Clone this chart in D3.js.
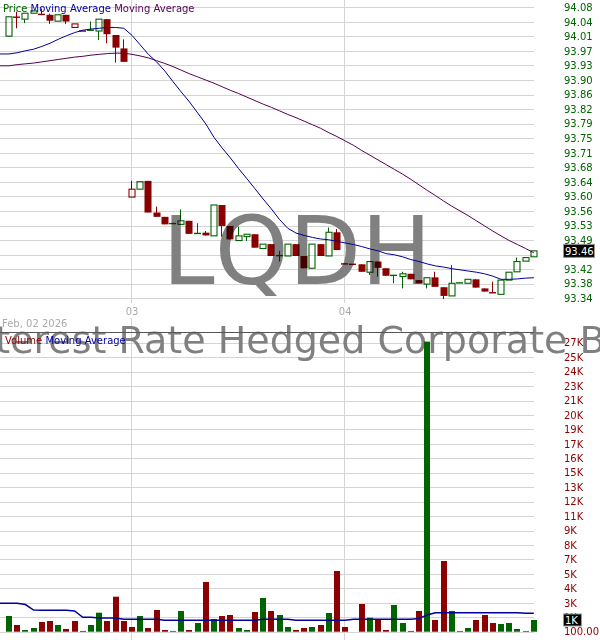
<!DOCTYPE html>
<html>
<head>
<meta charset="utf-8">
<script src="https://cdn.jsdelivr.net/npm/d3@7.9.0/dist/d3.min.js"></script>
<style>
  html, body { margin: 0; padding: 0; background: #fff; }
  svg { display: block; font-family: "DejaVu Sans", sans-serif; }
  text { white-space: pre; }
</style>
</head>
<body>
<svg id="chart" width="600" height="640"></svg>
<script>
// --- data ---
const symbol = 'LQDH';
const fundName = 'iShares Interest Rate Hedged Corporate Bond ETF';
const startLabel = 'Feb, 02 2026';
const monthLabels = ['03', '04'];
const monthStartIndex = [15, 41];

const openP = [94.007, 94.055, 94.050, 94.065, 94.062, 94.061, 94.045, 94.061, 94.029, 94.020,
  94.022, 94.020, 94.050, 94.010, 93.976, 93.600, 93.620, 93.641, 93.561, 93.550,
  93.533, 93.531, 93.540, 93.508, 93.510, 93.502, 93.580, 93.527, 93.490, 93.500,
  93.506, 93.470, 93.481, 93.452, 93.451, 93.481, 93.451, 93.420, 93.481, 93.451,
  93.511, 93.431, 93.430, 93.430, 93.410, 93.437, 93.420, 93.402, 93.399, 93.406,
  93.390, 93.380, 93.397, 93.372, 93.350, 93.383, 93.382, 93.392, 93.369, 93.358,
  93.354, 93.390, 93.411, 93.438, 93.449];
const highP = [94.056, 94.069, 94.065, 94.071, 94.077, 94.064, 94.061, 94.061, 94.038, 94.020,
  94.044, 94.050, 94.050, 94.010, 93.999, 93.641, 93.639, 93.641, 93.576, 93.550,
  93.533, 93.569, 93.540, 93.534, 93.514, 93.580, 93.580, 93.527, 93.525, 93.506,
  93.506, 93.481, 93.481, 93.464, 93.481, 93.481, 93.451, 93.481, 93.481, 93.523,
  93.519, 93.431, 93.430, 93.430, 93.437, 93.437, 93.420, 93.402, 93.411, 93.406,
  93.390, 93.396, 93.411, 93.372, 93.428, 93.383, 93.392, 93.392, 93.369, 93.386,
  93.390, 93.410, 93.447, 93.447, 93.464];
const lowP = [94.007, 94.027, 94.040, 94.065, 94.060, 94.038, 94.045, 94.038, 94.029, 94.020,
  94.022, 93.997, 93.989, 93.940, 93.942, 93.600, 93.620, 93.561, 93.550, 93.531,
  93.533, 93.531, 93.507, 93.508, 93.503, 93.502, 93.500, 93.493, 93.490, 93.489,
  93.472, 93.470, 93.451, 93.437, 93.451, 93.451, 93.420, 93.420, 93.451, 93.451,
  93.466, 93.431, 93.430, 93.411, 93.403, 93.399, 93.401, 93.382, 93.369, 93.392,
  93.382, 93.369, 93.373, 93.342, 93.350, 93.383, 93.382, 93.371, 93.361, 93.358,
  93.354, 93.390, 93.411, 93.438, 93.449];
const closeP = [94.056, 94.055, 94.065, 94.071, 94.062, 94.046, 94.061, 94.044, 94.038, 94.020,
  94.022, 94.050, 94.012, 93.978, 93.942, 93.620, 93.639, 93.561, 93.550, 93.531,
  93.533, 93.540, 93.507, 93.508, 93.503, 93.580, 93.527, 93.493, 93.502, 93.506,
  93.472, 93.481, 93.451, 93.452, 93.481, 93.451, 93.420, 93.481, 93.451, 93.511,
  93.466, 93.431, 93.430, 93.411, 93.437, 93.421, 93.401, 93.402, 93.406, 93.392,
  93.382, 93.396, 93.373, 93.350, 93.382, 93.383, 93.392, 93.371, 93.361, 93.358,
  93.390, 93.410, 93.437, 93.447, 93.464];

const maFast = [93.962, 93.965, 93.970, 93.974, 93.981, 93.989, 93.999, 94.008, 94.016, 94.022,
  94.025, 94.027, 94.029, 94.029, 94.027, 94.009, 93.985, 93.961, 93.942, 93.919,
  93.892, 93.866, 93.841, 93.813, 93.785, 93.751, 93.724, 93.699, 93.672, 93.647,
  93.621, 93.595, 93.570, 93.543, 93.521, 93.509, 93.503, 93.498, 93.494, 93.492,
  93.488, 93.484, 93.480, 93.475, 93.469, 93.464, 93.457, 93.454, 93.449, 93.442,
  93.437, 93.431, 93.426, 93.423, 93.419, 93.416, 93.413, 93.410, 93.406, 93.400,
  93.392, 93.392, 93.393, 93.395, 93.396];
const maSlow = [93.932, 93.935, 93.937, 93.939, 93.942, 93.945, 93.948, 93.951, 93.954, 93.956,
  93.959, 93.961, 93.963, 93.964, 93.964, 93.961, 93.957, 93.952, 93.945, 93.938,
  93.930, 93.921, 93.912, 93.904, 93.896, 93.888, 93.879, 93.870, 93.862, 93.853,
  93.844, 93.835, 93.827, 93.818, 93.809, 93.801, 93.792, 93.783, 93.774, 93.763,
  93.753, 93.742, 93.731, 93.718, 93.706, 93.694, 93.682, 93.670, 93.658, 93.645,
  93.631, 93.617, 93.604, 93.590, 93.577, 93.565, 93.553, 93.540, 93.527, 93.514,
  93.502, 93.490, 93.480, 93.470, 93.459];

const volume = [1545, 717, 256, 440, 993, 1085, 717, 349, 1085, 170,
  717, 1849, 1085, 3321, 1085, 533, 1545, 440, 2097, 256,
  170, 2005, 256, 901, 4674, 1269, 1545, 1637, 440, 256,
  1913, 3202, 2005, 1637, 533, 256, 440, 533, 717, 1821,
  5687, 533, 100, 2649, 1389, 1269, 256, 2557, 901, 170,
  2005, 26800, 1177, 6607, 2005, 170, 440, 1177, 1637, 901,
  809, 901, 349, 170, 1177];
const volumeMA = [2714, 2714, 2603, 2097, 2069, 2069, 2069, 2069, 2005, 1425,
  1425, 1360, 1360, 1360, 1241, 1241, 1241, 1241, 1241, 1149,
  1149, 1149, 1149, 1149, 1149, 1149, 1149, 1149, 1149, 1149,
  1149, 1241, 1241, 1241, 1241, 1149, 1149, 1149, 1149, 1149,
  1149, 1149, 1241, 1241, 1241, 1241, 1241, 1241, 1241, 1241,
  1315, 1637, 1848, 1848, 1848, 1848, 1848, 1848, 1848, 1848,
  1848, 1848, 1848, 1793, 1793];

const priceTickLabels = ['93.34', '93.38', '93.42', '93.45', '93.49', '93.53', '93.56', '93.60', '93.64', '93.68',
  '93.71', '93.75', '93.79', '93.82', '93.86', '93.90', '93.93', '93.97', '94.01', '94.04', '94.08'];
const volumeTickLabels = ['100.00', '1K', '3K', '4K', '5K', '7K', '8K', '9K', '11K', '12K',
  '13K', '15K', '16K', '17K', '19K', '20K', '21K', '23K', '24K', '25K', '27K'];

// --- setup ---
const green = '#006400', red = '#8b0000', navy = '#000099', purple = '#550055';
const gridColor = '#d4d4d4';
const plotRight = 534;
const n = closeP.length;

const svg = d3.select('#chart');

const x = d3.scaleLinear().domain([0, n - 1]).range([9, 533.8]);
const yP = d3.scaleLinear().domain([93.344, 94.08]).range([298.3, 7.3]);
const yV = d3.scaleLinear().domain([100, 26700]).range([631.7, 342.7]);

const priceTicks = priceTickLabels.map((_, k) => yP.domain()[0] + k * (yP.domain()[1] - yP.domain()[0]) / (priceTickLabels.length - 1));
const volTicks = volumeTickLabels.map((_, k) => yV.domain()[0] + k * (yV.domain()[1] - yV.domain()[0]) / (volumeTickLabels.length - 1));

const snap = v => Math.round(v) + 0.5;

// gridlines
const grid = svg.append('g');
grid.selectAll('.pg').data(priceTicks).join('line')
  .attr('x1', 0).attr('x2', plotRight)
  .attr('y1', d => snap(yP(d))).attr('y2', d => snap(yP(d)))
  .attr('stroke', gridColor);
grid.selectAll('.vg').data(volTicks).join('line')
  .attr('x1', 0).attr('x2', plotRight)
  .attr('y1', d => snap(yV(d))).attr('y2', d => snap(yV(d)))
  .attr('stroke', gridColor);
monthStartIndex.forEach(idx => {
  const gx = snap(x(idx)) - 1;
  grid.append('line').attr('x1', gx).attr('x2', gx).attr('y1', 0).attr('y2', 303).attr('stroke', gridColor);
  grid.append('line').attr('x1', gx).attr('x2', gx).attr('y1', 318).attr('y2', 640).attr('stroke', gridColor);
});

// big watermark behind candles
svg.append('text')
  .attr('x', 297).attr('y', 284)
  .attr('text-anchor', 'middle')
  .attr('font-size', 94)
  .attr('fill', '#808080')
  .text(symbol);

// candles
const colorOf = i => (i === 0 || closeP[i] >= closeP[i - 1]) ? green : red;
const candles = svg.append('g').style('mix-blend-mode', 'multiply');
d3.range(n).forEach(i => {
  const cx = snap(x(i)) - 1;
  const c = colorOf(i);
  const g = candles.append('g');
  if (highP[i] - lowP[i] > 0.0005) {
    g.append('line').attr('x1', cx).attr('x2', cx)
      .attr('y1', yP(highP[i])).attr('y2', yP(lowP[i]))
      .attr('stroke', c);
  }
  const top = yP(Math.max(openP[i], closeP[i]));
  const bot = yP(Math.min(openP[i], closeP[i]));
  if (bot - top < 1.5) {
    g.append('line').attr('x1', cx - 3.5).attr('x2', cx + 3.5)
      .attr('y1', (top + bot) / 2).attr('y2', (top + bot) / 2)
      .attr('stroke', c).attr('stroke-width', 1.4);
  } else if (closeP[i] > openP[i]) {
    g.append('rect').attr('x', cx - 2.5).attr('y', top).attr('width', 6).attr('height', bot - top)
      .attr('fill', '#fff').attr('stroke', c).attr('stroke-width', 1.1);
  } else {
    g.append('rect').attr('x', cx - 3).attr('y', top).attr('width', 7).attr('height', bot - top)
      .attr('fill', c);
  }
});

// moving averages (carried flat to the left edge like the original)
const lineP = d3.line().x((d, i) => x(i)).y(d => yP(d));
const fromEdge = (vals, line, y) => `M0,${y(vals[0])}` + line(vals).replace(/^M/, 'L');
svg.append('path').attr('d', fromEdge(maSlow, lineP, yP)).attr('fill', 'none').attr('stroke', purple).attr('stroke-width', 1);
svg.append('path').attr('d', fromEdge(maFast, lineP, yP)).attr('fill', 'none').attr('stroke', navy).attr('stroke-width', 1);

// fund name behind volume bars
const nameText = svg.append('text')
  .attr('y', 353)
  .attr('font-size', 38)
  .attr('fill', '#808080')
  .text(fundName);
const prefixW = nameText.node().getSubStringLength(0, fundName.indexOf('Bond'));
nameText.attr('x', 579.5 - prefixW);

// volume panel border
svg.append('line').attr('x1', 0).attr('x2', plotRight).attr('y1', 332.5).attr('y2', 332.5)
  .attr('stroke', '#555');

// volume bars
svg.append('g').selectAll('rect').data(volume).join('rect')
  .attr('x', (d, i) => Math.round(x(i)) - 3)
  .attr('y', d => yV(d))
  .attr('width', 6)
  .attr('height', d => yV.range()[0] - yV(d))
  .attr('fill', (d, i) => colorOf(i));

const lineV = d3.line().x((d, i) => x(i)).y(d => yV(d));
svg.append('path').attr('d', fromEdge(volumeMA, lineV, yV)).attr('fill', 'none').attr('stroke', navy).attr('stroke-width', 1.5);

// legends
const leg = svg.append('text').attr('x', 3).attr('y', 11.5).attr('font-size', 10);
leg.append('tspan').attr('fill', green).text('Price');
leg.append('tspan').attr('fill', navy).text(' Moving Average');
leg.append('tspan').attr('fill', purple).text(' Moving Average');

const vleg = svg.append('text').attr('x', 5).attr('y', 344).attr('font-size', 10);
vleg.append('tspan').attr('fill', red).text('Volume');
vleg.append('tspan').attr('fill', navy).text(' Moving Average');

svg.append('text').attr('x', 2).attr('y', 327).attr('font-size', 10).attr('fill', '#aaa').text(startLabel);
monthLabels.forEach((lab, k) => {
  svg.append('text').attr('x', x(monthStartIndex[k])).attr('y', 315)
    .attr('text-anchor', 'middle').attr('font-size', 10).attr('fill', '#aaa').text(lab);
});

// right axes
const axP = d3.axisRight(yP).tickValues(priceTicks).tickSize(0).tickPadding(0)
  .tickFormat((d, k) => priceTickLabels[k]);
const gP = svg.append('g').attr('transform', 'translate(564,0)').call(axP);
const axV = d3.axisRight(yV).tickValues(volTicks).tickSize(0).tickPadding(0)
  .tickFormat((d, k) => volumeTickLabels[k]);
const gV = svg.append('g').attr('transform', 'translate(564,0)').call(axV);
[gP, gV].forEach(g => {
  g.select('.domain').remove();
  g.selectAll('text').attr('font-family', '"DejaVu Sans", sans-serif').attr('font-size', 10);
});
gP.selectAll('text').attr('fill', green);
gV.selectAll('text').attr('fill', red);

// last value boxes
const lastClose = closeP[n - 1];
const pb = svg.append('g').attr('transform', `translate(563,${yP(lastClose)})`);
pb.append('rect').attr('x', 0.5).attr('y', -6.5).attr('width', 31).attr('height', 13)
  .attr('fill', '#000').attr('stroke', '#999');
pb.append('text').attr('x', 2).attr('y', 4).attr('font-size', 10).attr('fill', '#fff')
  .text(d3.format('.2f')(lastClose));

const lastVol = volume[n - 1];
const vb = svg.append('g').attr('transform', `translate(563,${yV(lastVol)})`);
vb.append('rect').attr('x', 0.5).attr('y', -6).attr('width', 18).attr('height', 12)
  .attr('fill', '#000').attr('stroke', '#999');
vb.append('text').attr('x', 2).attr('y', 4).attr('font-size', 10).attr('fill', '#fff')
  .text(Math.round(lastVol / 1000) + 'K');
</script>
</body>
</html>
